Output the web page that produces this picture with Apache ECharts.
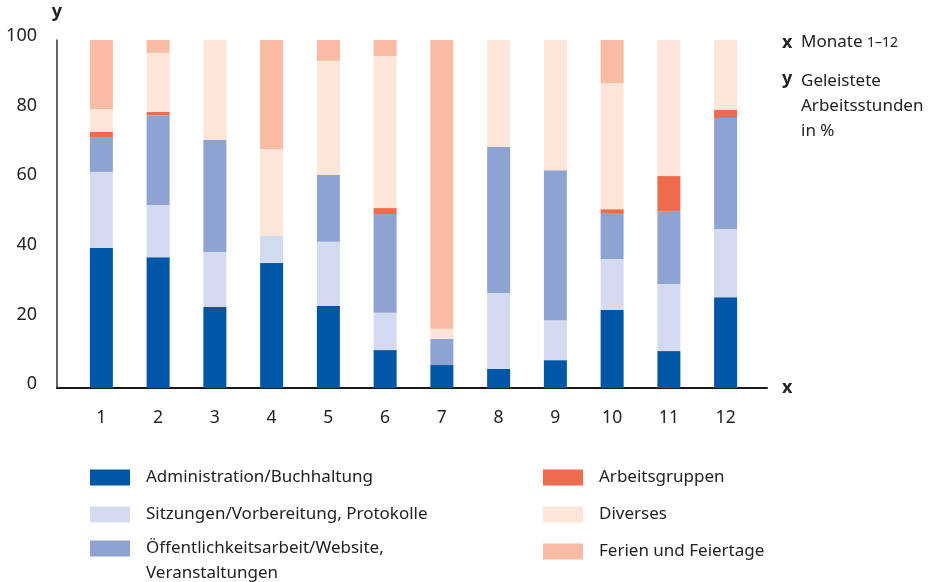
<!DOCTYPE html>
<html>
<head>
<meta charset="utf-8">
<script src="https://cdn.jsdelivr.net/npm/echarts@6/dist/echarts.min.js"></script>
<style>
html,body{margin:0;padding:0;background:#fff;}
#chart{width:934px;height:582px;}
</style>
</head>
<body>
<div id="chart"></div>
<script>
const months = ['1','2','3','4','5','6','7','8','9','10','11','12'];
const yTicks = [0, 20, 40, 60, 80, 100];
const admin     = [40.2, 37.6, 23.3, 35.9, 23.6, 10.9, 6.6, 5.5, 8.0, 22.4, 10.6, 26.1];
const sitzungen = [21.9, 15.0, 15.8, 7.8, 18.4, 10.7, 0, 21.8, 11.5, 14.7, 19.3, 19.6];
const oeff      = [9.8, 25.8, 32.2, 0, 19.2, 28.4, 7.5, 42.0, 43.1, 13.2, 21.0, 31.9];
const arbeitsgr = [1.7, 0.9, 0, 0, 0, 1.7, 0, 0, 0, 1.1, 10.0, 2.3];
const diverses  = [6.6, 17.0, 28.7, 25.0, 32.8, 43.7, 2.9, 30.7, 37.4, 36.2, 39.1, 20.1];
const ferien    = [19.8, 3.7, 0, 31.3, 6.0, 4.6, 83.0, 0, 0, 12.4, 0, 0];

const names = ['Administration/Buchhaltung', 'Sitzungen/Vorbereitung, Protokolle',
  'Öffentlichkeitsarbeit/Website, Veranstaltungen', 'Arbeitsgruppen', 'Diverses', 'Ferien und Feiertage'];
const colors = ['#0056a6', '#d4daef', '#8fa3d3', '#ee6b4d', '#fde5da', '#f8bba4'];
const values = [admin, sitzungen, oeff, arbeitsgr, diverses, ferien];

const FONT = 'Noto Sans';
const chart = echarts.init(document.getElementById('chart'));
const legendText = {fontFamily: FONT, fontSize: 17, color: '#222', padding: [0, 0, 0, 11]};
chart.setOption({
  animation: false,
  textStyle: {fontFamily: FONT},
  grid: [
    {left: 73, width: 681, top: 40, height: 348},
    {left: 57, width: 710, top: 40, height: 348}
  ],
  xAxis: [
    {type: 'category', gridIndex: 0, data: months,
     axisLine: {show: false}, axisTick: {show: false},
     axisLabel: {fontFamily: FONT, fontSize: 17.5, color: '#222', margin: 21}},
    {type: 'value', gridIndex: 1, min: 0, max: 1,
     axisLine: {show: true, lineStyle: {color: '#1a1a1a', width: 2}},
     axisTick: {show: false}, axisLabel: {show: false}, splitLine: {show: false},
     name: 'x', nameLocation: 'end', nameGap: 15,
     nameTextStyle: {fontFamily: FONT, fontSize: 18, fontWeight: 'bold', color: '#222', verticalAlign: 'middle'}}
  ],
  yAxis: [
    {type: 'value', gridIndex: 0, min: 0, max: 100, interval: 20, offset: 16,
     axisLine: {show: true, lineStyle: {color: '#333', width: 1.5}},
     axisTick: {show: false}, splitLine: {show: false},
     axisLabel: {fontFamily: FONT, fontSize: 18, color: '#222', margin: 20,
       verticalAlign: 'bottom', lineHeight: 8, customValues: yTicks},
     name: 'y', nameLocation: 'end', nameGap: 19,
     nameTextStyle: {fontFamily: FONT, fontSize: 18, fontWeight: 'bold', color: '#222', align: 'center'}},
    {type: 'value', gridIndex: 1, min: 0, max: 1, show: false}
  ],
  legend: [
    {left: 90, top: 469, orient: 'vertical', padding: 0, itemWidth: 40, itemHeight: 16, itemGap: 20,
     icon: 'rect', data: [names[0], names[1]], textStyle: legendText, selectedMode: false},
    {left: 90, top: 511, orient: 'vertical', padding: 0, itemWidth: 40, itemHeight: 16, itemGap: 20,
     icon: 'rect', data: [names[2]], selectedMode: false,
     formatter: n => ' \n' + n.replace(', ', ',\n'),
     textStyle: Object.assign({}, legendText, {lineHeight: 25})},
    {left: 543, top: 469, orient: 'vertical', padding: 0, itemWidth: 40, itemHeight: 16, itemGap: 20,
     icon: 'rect', data: [names[3], names[4], names[5]], textStyle: legendText, selectedMode: false}
  ],
  graphic: [
    {type: 'text', left: 782, top: 34, style: {text: 'x', font: 'bold 18px "Noto Sans"', fill: '#222'}},
    {type: 'text', left: 801, top: 34, style: {text: 'Monate {s|1–12}', font: '17px "Noto Sans"', fill: '#222',
      rich: {s: {fontSize: 14, fontFamily: FONT, fill: '#222', padding: [2, 0, 0, 0]}}}},
    {type: 'text', left: 782, top: 70, style: {text: 'y', font: 'bold 18px "Noto Sans"', fill: '#222'}},
    {type: 'text', left: 801, top: 69, style: {text: 'Geleistete\nArbeitsstunden\nin %', font: '17px "Noto Sans"',
      lineHeight: 25, fill: '#222'}}
  ],
  series: names.map((n, i) => ({
    name: n, type: 'bar', stack: 'total', xAxisIndex: 0, yAxisIndex: 0,
    barWidth: 23, data: values[i], itemStyle: {color: colors[i]}
  }))
});
</script>
</body>
</html>
